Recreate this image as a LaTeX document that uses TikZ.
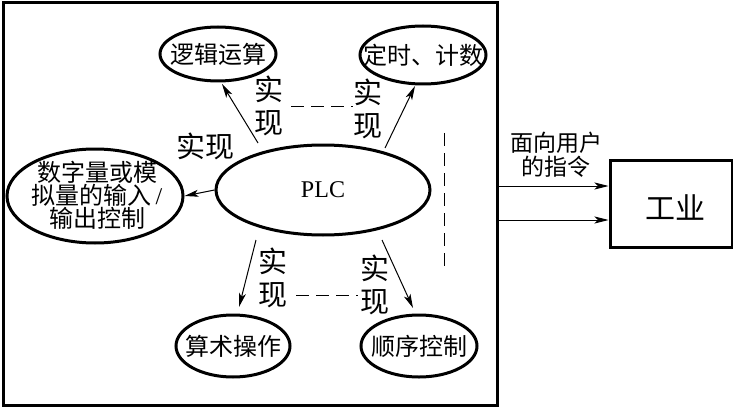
\documentclass[tikz,border=0pt]{standalone}
\usepackage{fontspec}
\setmainfont{Liberation Serif}
\newfontfamily\cjk{Noto Sans CJK SC}
\usetikzlibrary{shapes.geometric,arrows.meta}
\begin{document}
\begin{tikzpicture}[x=1pt,y=-1pt,
  ell/.style={ellipse,draw,line width=3pt,inner sep=0pt},
  etxt/.style={font=\cjk\fontsize{24}{23}\selectfont,inner sep=0pt,align=center},
  arr/.style={line width=1pt,-{Stealth[length=14pt,width=7pt,inset=3.5pt]}},
  lbl/.style={font=\cjk\fontsize{29}{33}\selectfont,inner sep=0pt,align=center},
  dsh/.style={line width=1pt,dash pattern=on 13pt off 7pt}]
\useasboundingbox (0,0) rectangle (733,409);
% outer frame
\node[draw,line width=3pt,minimum width=494pt,minimum height=402pt,inner sep=0pt] (frame) at (250,204) {};
% ellipses
\node[ell,minimum width=116pt,minimum height=54pt] (lj) at (218,54) {};
\node[etxt] at (lj) {逻辑运算};
\node[ell,minimum width=126pt,minimum height=58pt] (dsj) at (423,55) {};
\node[etxt] at (dsj) {定时、计数};
\node[ell,minimum width=214pt,minimum height=90pt] (plc) at (323,190) {};
\node[font=\fontsize{24}{24}\selectfont,inner sep=0pt] at (plc) {PLC};
\node[ell,minimum width=176pt,minimum height=94pt] (szl) at (95,196) {};
\node[etxt] at (97,195) {数字量或模\\拟量的输入\,{\rmfamily /}\\输出控制};
\node[ell,minimum width=114pt,minimum height=62pt] (sz) at (233,346) {};
\node[etxt] at (sz) {算术操作};
\node[ell,minimum width=116pt,minimum height=62pt] (sx) at (419,346) {};
\node[etxt] at (sx) {顺序控制};
% labels
\node[lbl] (l1) at (269,106) {实\\现};
\node[lbl] (l2) at (368,109) {实\\现};
\node[lbl] (l3) at (205,146) {实现};
\node[lbl] (l4) at (273,278) {实\\现};
\node[lbl] (l5) at (375,285) {实\\现};
% dashed lines
\coordinate (d1a) at (291,107); \coordinate (d1b) at (353,107);
\coordinate (d2a) at (296,295); \coordinate (d2b) at (358,295);
\coordinate (d3a) at (444,133); \coordinate (d3b) at (444,272);
\draw[dsh] (d1a) -- (d1b);
\draw[dsh] (d2a) -- (d2b);
\draw[dsh] (d3a) -- (d3b);
% arrows
\coordinate (a1s) at (258,143); \coordinate (a1e) at (222,84);
\coordinate (a2s) at (385,148); \coordinate (a2e) at (415,86);
\coordinate (a4s) at (256,240); \coordinate (a4e) at (239,307);
\coordinate (a5s) at (382,240); \coordinate (a5e) at (413,308);
\draw[arr] (a1s) -- (a1e);
\draw[arr] (a2s) -- (a2e);
\draw[arr] (plc.west) -- (szl.east);
\draw[arr] (a4s) -- (a4e);
\draw[arr] (a5s) -- (a5e);
% industry box
\node[draw,line width=3pt,minimum width=122pt,minimum height=87pt,inner sep=0pt] (gy) at (671,203.5) {};
\node[font=\cjk\fontsize{30}{30}\selectfont,inner sep=0pt] at (675,207) {工业};
\coordinate (r1s) at (497,186); \coordinate (r2s) at (497,220);
\draw[arr] (r1s) -- (gy.west |- r1s);
\draw[arr] (r2s) -- (gy.west |- r2s);
\node[font=\cjk\fontsize{23}{24}\selectfont,inner sep=0pt,align=center] (cmd) at (556,155) {面向用户\\的指令};
\end{tikzpicture}
\end{document}
